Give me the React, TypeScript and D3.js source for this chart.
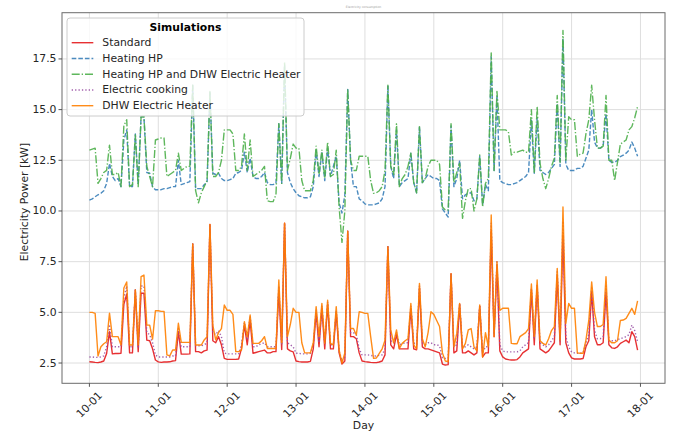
import React from "react";
import * as d3 from "d3";

// Hourly electricity power [kW] from 10-01 00:00 to 17-01 23:00
const startDate = new Date(2024, 0, 10, 0, 0, 0);
const hourCount = 192;

const dayTickLabels = ["10-01", "11-01", "12-01", "13-01", "14-01", "15-01", "16-01", "17-01", "18-01"];
const powerTicks = [2.5, 5.0, 7.5, 10.0, 12.5, 15.0, 17.5];

const standard = [
  2.56, 2.55, 2.53, 2.52, 2.55, 2.6, 2.97, 4.05, 2.95, 2.97, 2.97, 2.98, 5.4, 5.9, 3.0, 3.0, 6.1, 3.06, 5.94, 5.94, 3.63, 3.6, 3.2, 2.65,
  2.56, 2.53, 2.55, 2.55, 2.56, 2.6, 2.62, 4.05, 2.94, 2.94, 2.94, 2.95, 8.37, 3.06, 3.06, 3.0, 3.1, 3.14, 9.34, 3.6, 3.5, 3.8, 3.4, 2.73,
  2.68, 2.68, 2.68, 2.68, 2.7, 3.22, 4.37, 3.4, 4.62, 2.98, 3.02, 3.06, 3.1, 3.14, 3.0, 3.0, 3.06, 3.06, 6.1, 3.17, 9.4, 3.2, 3.1, 3.05,
  2.6, 2.57, 2.55, 2.55, 2.55, 2.58, 3.2, 5.0, 3.3, 5.2, 3.2, 5.4, 3.2, 3.2, 5.0, 3.0, 2.45, 2.6, 9.0, 3.8, 3.8, 3.7, 3.0, 2.6,
  2.57, 2.55, 2.53, 2.52, 2.52, 2.55, 2.6, 2.9, 8.24, 3.4, 3.2, 3.9, 3.2, 3.2, 3.2, 3.2, 5.2, 3.2, 3.15, 6.2, 3.3, 3.2, 3.2, 3.15,
  3.1, 3.05, 3.0, 2.45, 2.4, 2.42, 6.9, 3.0, 3.1, 5.4, 3.0, 3.0, 3.1, 3.0, 2.9, 3.0, 5.3, 2.8, 3.0, 3.0, 9.0, 3.8, 7.3, 3.1,
  2.8, 2.7, 2.67, 2.65, 2.65, 2.67, 2.8, 3.0, 3.1, 3.2, 6.1, 3.4, 6.3, 3.2, 3.1, 3.0, 3.1, 3.3, 3.5, 6.8, 3.4, 8.8, 3.5, 3.0,
  2.75, 2.7, 2.7, 2.7, 2.72, 3.3, 3.6, 6.0, 3.8, 3.4, 3.4, 3.5, 6.0, 3.4, 3.25, 3.22, 3.3, 3.47, 3.55, 3.63, 3.5, 4.05, 3.8, 3.14,
];

const heatingHP = [
  10.54, 10.6, 10.7, 10.8, 10.87, 11.0, 11.36, 12.35, 11.7, 11.5, 11.6, 11.2, 13.5, 14.0, 11.2, 11.2, 13.8, 11.3, 14.65, 14.65, 11.9, 11.86, 11.2, 11.05,
  11.05, 11.05, 11.1, 11.1, 11.15, 11.2, 11.2, 12.5, 11.3, 11.35, 11.4, 11.45, 16.2, 11.1, 11.1, 11.1, 11.3, 11.4, 15.9, 11.86, 11.8, 11.86, 11.6, 11.5,
  11.5, 11.55, 11.6, 11.86, 11.9, 12.0, 12.9, 11.9, 12.6, 11.7, 11.6, 11.6, 11.7, 11.9, 11.4, 11.3, 11.3, 11.36, 14.3, 11.36, 17.2, 11.9, 11.4, 11.1,
  10.9, 10.75, 10.7, 10.65, 10.65, 10.7, 11.2, 13.0, 11.7, 12.9, 11.5, 13.1, 11.7, 12.2, 12.7, 10.4, 9.9, 10.8, 16.0, 12.5, 11.2, 11.2, 10.6, 10.5,
  10.35, 10.3, 10.3, 10.3, 10.35, 10.4, 10.6, 11.2, 16.2, 12.2, 11.6, 14.0, 11.2, 11.4, 11.5, 11.6, 12.85, 11.4, 10.9, 14.16, 11.4, 11.6, 11.8, 11.7,
  11.6, 11.6, 11.5, 10.1, 9.9, 9.7, 14.2, 11.2, 11.6, 12.5, 10.6, 10.8, 10.87, 10.9, 10.5, 10.6, 12.7, 10.3, 11.3, 11.0, 17.6, 12.0, 15.7, 11.5,
  11.4, 11.35, 11.3, 11.3, 11.35, 11.4, 11.5, 11.6, 11.7, 11.9, 14.5, 11.86, 14.6, 12.0, 11.9, 11.8, 11.9, 12.1, 12.3, 15.3, 12.2, 18.5, 12.3, 12.0,
  12.0, 12.0, 12.1, 12.1, 12.2, 12.6, 13.0, 15.0, 13.4, 13.1, 13.1, 13.2, 14.8, 12.5, 12.4, 12.4, 12.5, 12.68, 12.75, 12.85, 13.0, 13.4, 13.1, 12.7,
];

const heatingHPAndDHW = [
  13.0, 13.05, 13.1, 11.36, 11.6, 11.9, 12.0, 13.25, 11.8, 11.8, 11.9, 11.2, 14.2, 14.5, 11.2, 11.3, 13.75, 11.2, 14.65, 14.65, 12.2, 11.7, 11.2, 13.5,
  13.55, 13.6, 13.6, 11.7, 11.8, 11.9, 12.0, 12.85, 12.0, 12.1, 12.2, 12.2, 16.2, 11.0, 10.4, 10.9, 11.2, 11.5, 15.9, 11.7, 11.7, 11.9, 12.5, 14.0,
  14.0, 14.0, 13.8, 12.0, 12.0, 12.2, 13.8, 12.0, 13.5, 11.7, 11.8, 11.9, 12.0, 12.2, 10.5, 10.46, 10.46, 10.8, 14.3, 11.36, 17.36, 12.0, 12.6, 13.3,
  13.1, 13.1, 11.5, 11.0, 11.0, 11.0, 11.5, 13.2, 11.8, 13.0, 11.6, 13.4, 11.7, 11.8, 13.0, 10.2, 8.45, 10.0, 16.0, 12.5, 12.0, 12.0, 12.7, 12.7,
  12.7, 12.7, 11.5, 10.87, 10.9, 11.0, 11.2, 12.0, 16.2, 12.2, 11.8, 14.3, 11.2, 11.6, 11.8, 12.2, 12.85, 11.4, 10.9, 14.16, 11.4, 11.6, 12.2, 12.5,
  12.5, 12.5, 12.3, 10.2, 10.05, 10.05, 14.3, 11.4, 11.9, 12.35, 9.64, 10.5, 11.1, 11.1, 10.0, 10.6, 12.76, 10.2, 11.36, 11.6, 17.8, 12.0, 15.9, 14.0,
  14.0, 14.0, 13.9, 12.76, 12.9, 12.9, 12.95, 13.0, 12.9, 12.9, 15.0, 11.86, 15.15, 12.35, 11.6, 11.1, 11.6, 12.2, 12.6, 15.7, 12.4, 18.9, 12.5, 14.65,
  14.5, 14.5, 12.7, 12.8, 12.85, 13.8, 14.5, 16.2, 14.5, 13.1, 13.1, 13.2, 15.7, 12.5, 12.5, 11.5, 12.4, 13.3, 13.4, 13.5, 14.0, 14.16, 14.6, 15.15,
];

const electricCooking = [
  2.8, 2.8, 2.78, 2.78, 2.8, 2.85, 3.3, 4.4, 3.3, 3.3, 3.3, 3.3, 5.7, 6.3, 3.3, 3.3, 6.1, 3.3, 6.3, 6.3, 4.0, 3.9, 3.5, 2.9,
  2.8, 2.8, 2.8, 2.8, 2.8, 2.85, 2.85, 4.2, 3.3, 3.3, 3.3, 3.3, 8.37, 3.35, 3.35, 3.35, 3.4, 3.5, 9.34, 4.0, 3.9, 4.1, 3.8, 3.0,
  2.95, 2.95, 2.95, 2.95, 2.95, 3.4, 4.5, 3.7, 4.8, 3.3, 3.3, 3.4, 3.45, 3.5, 3.3, 3.3, 3.3, 3.3, 6.3, 3.4, 9.4, 3.5, 3.4, 3.3,
  2.98, 2.98, 2.95, 2.95, 2.95, 2.98, 3.4, 5.1, 3.5, 5.3, 3.4, 5.5, 3.4, 3.4, 5.1, 3.1, 2.6, 2.8, 9.0, 4.0, 4.0, 3.9, 3.2, 2.9,
  2.9, 2.9, 2.88, 2.85, 2.85, 2.88, 2.9, 3.2, 8.24, 3.6, 3.5, 4.0, 3.4, 3.45, 3.5, 3.5, 5.3, 3.5, 3.4, 6.3, 3.5, 3.4, 3.5, 3.5,
  3.4, 3.4, 3.35, 2.75, 2.73, 2.73, 6.9, 3.3, 3.4, 5.44, 3.3, 3.3, 3.4, 3.3, 3.2, 3.3, 5.36, 3.0, 3.3, 3.3, 9.4, 3.9, 7.5, 3.4,
  3.1, 3.05, 3.05, 3.05, 3.05, 3.05, 3.1, 3.3, 3.4, 3.5, 6.2, 3.7, 6.4, 3.5, 3.4, 3.3, 3.4, 3.6, 3.8, 7.0, 3.6, 9.5, 3.8, 3.3,
  3.05, 3.0, 2.98, 2.98, 3.0, 3.5, 3.9, 6.2, 4.1, 3.7, 3.7, 3.8, 6.3, 3.6, 3.6, 3.6, 3.65, 3.7, 3.75, 3.8, 3.9, 4.37, 4.1, 3.55,
];

const dhwElectricHeater = [
  5.0, 5.0, 4.95, 2.85, 3.3, 3.45, 3.55, 4.96, 3.8, 3.8, 3.8, 3.39, 6.2, 6.5, 3.39, 3.39, 6.1, 3.4, 6.76, 6.84, 4.37, 4.37, 3.68, 5.08,
  5.08, 5.05, 5.05, 2.9, 2.85, 3.14, 3.14, 4.46, 3.52, 3.52, 3.52, 3.52, 8.37, 3.39, 3.39, 3.39, 3.64, 3.8, 9.34, 4.37, 3.64, 4.0, 4.2, 5.36,
  5.1, 5.1, 4.9, 3.06, 3.06, 3.14, 4.54, 3.8, 4.87, 3.47, 3.47, 3.47, 3.6, 3.8, 3.22, 3.22, 3.22, 3.22, 6.6, 3.5, 9.4, 3.8, 4.4, 5.2,
  5.0, 5.0, 3.5, 3.0, 3.0, 3.0, 3.5, 5.28, 3.8, 5.44, 3.47, 5.6, 3.47, 3.4, 5.28, 3.14, 2.5, 3.0, 9.0, 4.2, 4.2, 3.88, 5.03, 5.0,
  4.95, 4.95, 3.8, 2.73, 2.75, 2.98, 3.2, 3.63, 8.24, 4.13, 3.5, 4.13, 3.22, 3.47, 3.6, 3.7, 5.44, 3.4, 3.2, 6.43, 3.7, 3.3, 4.0, 5.03,
  4.9, 4.6, 4.3, 3.0, 2.6, 2.57, 6.9, 3.3, 3.96, 5.44, 3.2, 3.47, 4.13, 4.2, 3.3, 3.1, 5.36, 2.8, 4.0, 3.3, 9.8, 3.8, 7.5, 5.1,
  5.2, 5.2, 5.2, 3.47, 3.45, 3.45, 3.8, 3.9, 4.0, 4.2, 6.4, 3.8, 6.6, 3.6, 3.47, 3.39, 3.7, 4.1, 4.3, 7.17, 3.63, 10.2, 4.46, 5.44,
  5.2, 5.2, 3.0, 2.98, 2.98, 3.63, 4.6, 6.5, 5.0, 4.3, 4.3, 4.4, 6.76, 3.63, 3.5, 3.5, 3.6, 4.6, 4.62, 4.7, 4.95, 5.2, 4.9, 5.57,
];

const seriesNames = ["Standard", "Heating HP", "Heating HP and DHW Electric Heater", "Electric cooking", "DHW Electric Heater"];
const seriesValues = [standard, heatingHP, heatingHPAndDHW, electricCooking, dhwElectricHeater];
const seriesColors = ["#e41a1c", "#377eb8", "#4daf4a", "#984ea3", "#ff7f00"];
const seriesDashes = ["", "4.6,2", "8,2,1.3,2", "1.3,2.1", ""];

const W = 673;
const H = 431;
const plot = { left: 62, right: 665, top: 12.7, bottom: 383.3 };
const FONT = "'DejaVu Sans', sans-serif";
const FS = 10.8;

export default function App() {
  const times = d3.range(hourCount).map((h) => d3.timeHour.offset(startDate, h));
  const padMinutes = (hourCount - 1) * 60 * 0.05;
  const x = d3
    .scaleTime()
    .domain([
      d3.timeMinute.offset(times[0], -padMinutes),
      d3.timeMinute.offset(times[times.length - 1], padMinutes),
    ])
    .range([plot.left, plot.right]);
  const y = d3.scaleLinear().domain([1.5, 19.78]).range([plot.bottom, plot.top]);

  const dayTicks = dayTickLabels.map((_, i) => d3.timeDay.offset(startDate, i));

  const line = d3
    .line<number>()
    .x((_, i) => x(times[i]))
    .y((d) => y(d));

  const legend = { x: 67, y: 18, w: 237, h: 98 };
  const rowY = (i: number) => 42.7 + i * 15.75;

  return (
    <svg
      width={W}
      height={H}
      viewBox={`0 0 ${W} ${H}`}
      style={{ position: "absolute", left: 0, top: 0, background: "#fff" }}
      fontFamily={FONT}
    >
      <rect x={0} y={0} width={W} height={H} fill="#fff" />
      <text x={(plot.left + plot.right) / 2} y={8} fontSize={3} fill="#9a9a9a" textAnchor="middle">
        Electricity consumption
      </text>

      <defs>
        <clipPath id="plot-area">
          <rect x={plot.left} y={plot.top} width={plot.right - plot.left} height={plot.bottom - plot.top} />
        </clipPath>
      </defs>

      {/* grid */}
      <g stroke="#dedede" strokeWidth={1}>
        {dayTicks.map((d, i) => (
          <line key={`gx${i}`} x1={x(d)} x2={x(d)} y1={plot.top} y2={plot.bottom} />
        ))}
        {powerTicks.map((v, i) => (
          <line key={`gy${i}`} x1={plot.left} x2={plot.right} y1={y(v)} y2={y(v)} />
        ))}
      </g>

      {/* series */}
      <g clipPath="url(#plot-area)" fill="none" strokeLinejoin="round">
        {seriesValues.map((vals, i) => (
          <path
            key={seriesNames[i]}
            d={line(vals) || ""}
            stroke={seriesColors[i]}
            strokeWidth={1.4}
            strokeDasharray={seriesDashes[i] || undefined}
            strokeOpacity={0.9}
          />
        ))}
      </g>

      {/* frame */}
      <rect
        x={plot.left}
        y={plot.top}
        width={plot.right - plot.left}
        height={plot.bottom - plot.top}
        fill="none"
        stroke="#6b6b6b"
        strokeWidth={1}
      />

      {/* y axis */}
      <g fontSize={FS} fill="#262626">
        {powerTicks.map((v, i) => (
          <g key={`yt${i}`}>
            <line x1={plot.left - 3.5} x2={plot.left} y1={y(v)} y2={y(v)} stroke="#444" strokeWidth={0.9} />
            <text x={plot.left - 5.5} y={y(v)} textAnchor="end" dominantBaseline="central">
              {v.toFixed(1)}
            </text>
          </g>
        ))}
        <text
          transform={`translate(24, ${(plot.top + plot.bottom) / 2 + 4}) rotate(-90)`}
          textAnchor="middle"
          dominantBaseline="central"
        >
          Electricity Power [kW]
        </text>
      </g>

      {/* x axis */}
      <g fontSize={FS} fill="#262626">
        {dayTicks.map((d, i) => (
          <g key={`xt${i}`}>
            <line x1={x(d)} x2={x(d)} y1={plot.bottom} y2={plot.bottom + 3.5} stroke="#444" strokeWidth={0.9} />
            <text
              transform={`translate(${x(d)}, ${plot.bottom + 21.5}) rotate(-45)`}
              textAnchor="middle"
              dominantBaseline="central"
            >
              {dayTickLabels[i]}
            </text>
          </g>
        ))}
        <text x={(plot.left + plot.right) / 2} y={425} textAnchor="middle" dominantBaseline="central">
          Day
        </text>
      </g>

      {/* legend */}
      <g>
        <rect
          x={legend.x}
          y={legend.y}
          width={legend.w}
          height={legend.h}
          rx={3}
          fill="#fff"
          fillOpacity={0.8}
          stroke="#cccccc"
          strokeWidth={1}
        />
        <text
          x={legend.x + legend.w / 2}
          y={27.5}
          fontSize={FS}
          fontWeight="bold"
          textAnchor="middle"
          dominantBaseline="central"
          fill="#000"
        >
          Simulations
        </text>
        {seriesNames.map((name, i) => (
          <g key={`lg${i}`}>
            <line
              x1={71.7}
              x2={93.3}
              y1={rowY(i)}
              y2={rowY(i)}
              stroke={seriesColors[i]}
              strokeWidth={1.4}
              strokeDasharray={seriesDashes[i] || undefined}
              strokeOpacity={0.9}
            />
            <text x={102.3} y={rowY(i)} fontSize={FS} dominantBaseline="central" fill="#262626">
              {name}
            </text>
          </g>
        ))}
      </g>
    </svg>
  );
}
